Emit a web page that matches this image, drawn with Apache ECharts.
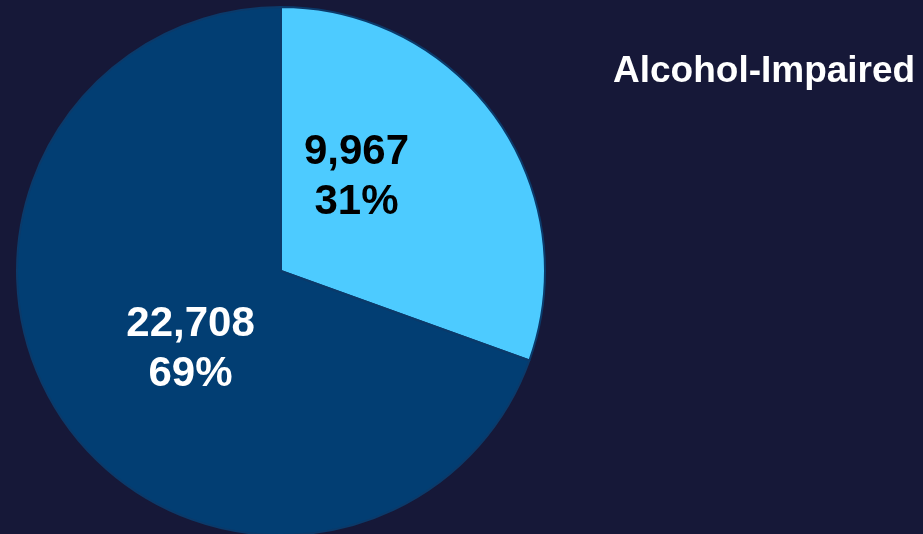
<!DOCTYPE html>
<html>
<head>
<meta charset="utf-8">
<script src="https://cdn.jsdelivr.net/npm/echarts@6/dist/echarts.min.js"></script>
<style>
  html, body { margin: 0; padding: 0; background: #161838; }
  #chart { width: 923px; height: 534px; }
</style>
</head>
<body>
<div id="chart"></div>
<script>
// Crash counts split by alcohol involvement
const categories = ['Alcohol-Impaired', 'Not Alcohol-Impaired'];
const values = [9967, 22708];
const percents = ['31%', '69%'];
const sliceColors = ['#4dcbff', '#023e73'];
const labelColors = ['#000000', '#ffffff'];
const labelOffsets = [[-35, -16], [20, 1]];

const chart = echarts.init(document.getElementById('chart'), null, { renderer: 'canvas' });

const pieData = categories.map((name, i) => ({
  name: name,
  value: values[i],
  itemStyle: { color: sliceColors[i] },
  label: { color: labelColors[i], offset: labelOffsets[i] }
}));

chart.setOption({
  backgroundColor: '#161838',
  animation: false,
  title: {
    text: categories[0],
    left: 608,
    top: 48,
    textStyle: {
      color: '#ffffff',
      fontFamily: 'Liberation Sans, Arial, sans-serif',
      fontWeight: 'bold',
      fontSize: 37
    }
  },
  series: [{
    type: 'pie',
    center: [281, 271],
    radius: [0, 264],
    startAngle: 90,
    clockwise: true,
    itemStyle: { borderColor: '#0b3a6a', borderWidth: 2 },
    label: {
      show: true,
      position: 'inside',
      fontFamily: 'Liberation Sans, Arial, sans-serif',
      fontWeight: 'bold',
      fontSize: 42,
      lineHeight: 50,
      formatter: p => p.value.toLocaleString('en-US') + '\n' + percents[p.dataIndex]
    },
    labelLine: { show: false },
    emphasis: { disabled: true },
    data: pieData
  }]
});
</script>
</body>
</html>
